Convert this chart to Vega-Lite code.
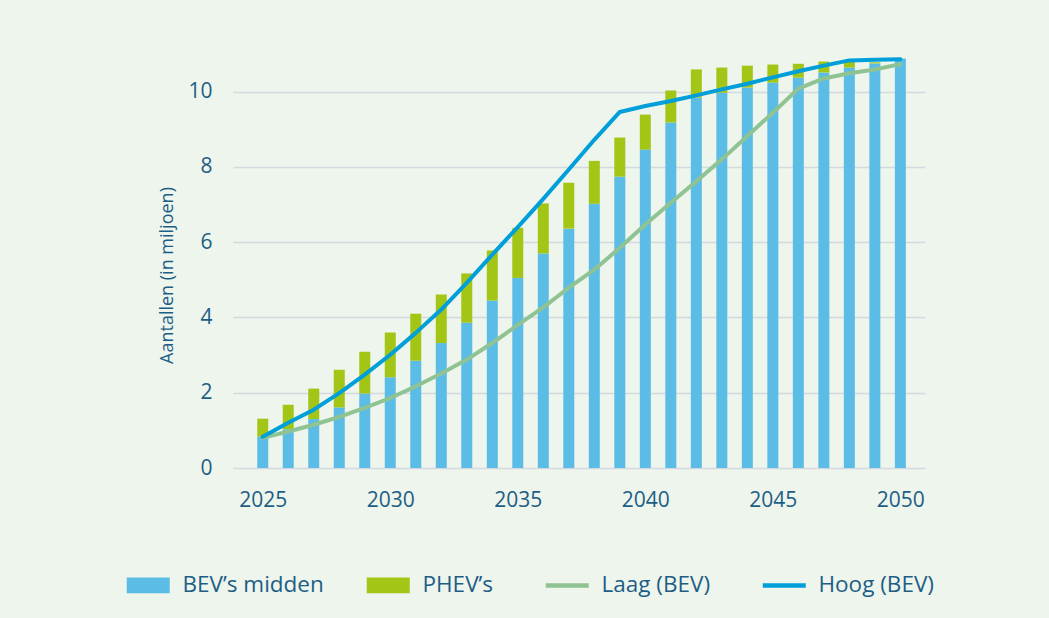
{
  "$schema": "https://vega.github.io/schema/vega-lite/v6.json",
  "width": 692,
  "height": 414,
  "autosize": {"type": "none"},
  "padding": {"left": 233, "top": 54, "right": 124, "bottom": 150},
  "background": "#eef5ec",
  "config": {
    "view": {"stroke": null},
    "font": "Open Sans",
    "axis": {"labelColor": "#1d5e86", "titleColor": "#1d5e86", "labelFont": "Open Sans", "titleFont": "Open Sans"},
    "legend": {"labelColor": "#1d5e86", "labelFont": "Open Sans"}
  },
  "data": {
    "values": [
      {"year": 2025, "bev": 0.83, "phev": 0.48, "laag": 0.80, "hoog": 0.83},
      {"year": 2026, "bev": 1.03, "phev": 0.65, "laag": 0.97, "hoog": 1.20},
      {"year": 2027, "bev": 1.30, "phev": 0.81, "laag": 1.15, "hoog": 1.55},
      {"year": 2028, "bev": 1.61, "phev": 1.00, "laag": 1.36, "hoog": 1.99},
      {"year": 2029, "bev": 1.98, "phev": 1.11, "laag": 1.60, "hoog": 2.48},
      {"year": 2030, "bev": 2.41, "phev": 1.19, "laag": 1.86, "hoog": 3.01},
      {"year": 2031, "bev": 2.85, "phev": 1.25, "laag": 2.17, "hoog": 3.59},
      {"year": 2032, "bev": 3.32, "phev": 1.29, "laag": 2.51, "hoog": 4.21},
      {"year": 2033, "bev": 3.86, "phev": 1.31, "laag": 2.88, "hoog": 4.92},
      {"year": 2034, "bev": 4.45, "phev": 1.33, "laag": 3.32, "hoog": 5.67},
      {"year": 2035, "bev": 5.05, "phev": 1.33, "laag": 3.80, "hoog": 6.40},
      {"year": 2036, "bev": 5.70, "phev": 1.33, "laag": 4.27, "hoog": 7.15},
      {"year": 2037, "bev": 6.36, "phev": 1.22, "laag": 4.79, "hoog": 7.93},
      {"year": 2038, "bev": 7.02, "phev": 1.14, "laag": 5.27, "hoog": 8.72},
      {"year": 2039, "bev": 7.74, "phev": 1.04, "laag": 5.85, "hoog": 9.46},
      {"year": 2040, "bev": 8.46, "phev": 0.93, "laag": 6.47, "hoog": 9.62},
      {"year": 2041, "bev": 9.18, "phev": 0.85, "laag": 7.05, "hoog": 9.75},
      {"year": 2042, "bev": 9.84, "phev": 0.75, "laag": 7.62, "hoog": 9.90},
      {"year": 2043, "bev": 9.97, "phev": 0.67, "laag": 8.20, "hoog": 10.06},
      {"year": 2044, "bev": 10.11, "phev": 0.58, "laag": 8.82, "hoog": 10.21},
      {"year": 2045, "bev": 10.24, "phev": 0.48, "laag": 9.44, "hoog": 10.38},
      {"year": 2046, "bev": 10.37, "phev": 0.37, "laag": 10.08, "hoog": 10.54},
      {"year": 2047, "bev": 10.51, "phev": 0.29, "laag": 10.35, "hoog": 10.69},
      {"year": 2048, "bev": 10.64, "phev": 0.15, "laag": 10.49, "hoog": 10.83},
      {"year": 2049, "bev": 10.75, "phev": 0.03, "laag": 10.59, "hoog": 10.85},
      {"year": 2050, "bev": 10.88, "phev": 0.0, "laag": 10.73, "hoog": 10.86}
    ]
  },
  "transform": [{"fold": ["bev", "phev", "laag", "hoog"], "as": ["series", "value"]}],
  "encoding": {
    "x": {
      "field": "year",
      "type": "quantitative",
      "scale": {"domain": [2024.03, 2050.77], "nice": false, "zero": false},
      "axis": {
        "values": [2025, 2030, 2035, 2040, 2045, 2050],
        "format": "d",
        "title": null,
        "grid": false,
        "domain": false,
        "ticks": false,
        "labelPadding": 21,
        "labelFontSize": 21,
        "labelFlush": false
      }
    },
    "color": {
      "field": "series",
      "type": "nominal",
      "scale": {
        "domain": ["bev", "phev", "laag", "hoog"],
        "range": ["#5bbde6", "#a3c516", "#8fc393", "#009fda"]
      },
      "legend": {
        "orient": "none",
        "legendX": -96,
        "legendY": 520,
        "direction": "horizontal",
        "title": null,
        "labelFontSize": 22.5,
        "labelOffset": 23,
        "columnPadding": 42,
        "symbolType": "M-1,-0.372H1V0.372H-1Z",
        "symbolSize": 1849,
        "labelExpr": "{'bev': 'BEV’s midden', 'phev': 'PHEV’s', 'laag': 'Laag (BEV)', 'hoog': 'Hoog (BEV)'}[datum.value]",
        "encode": {
          "symbols": {
            "update": {
              "shape": {"signal": "(datum.value === 'laag' || datum.value === 'hoog') ? 'stroke' : 'M-1,-0.372H1V0.372H-1Z'"},
              "fill": {"signal": "(datum.value === 'laag' || datum.value === 'hoog') ? 'transparent' : scale('color', datum.value)"},
              "stroke": {"signal": "scale('color', datum.value)"},
              "strokeWidth": {"signal": "(datum.value === 'laag' || datum.value === 'hoog') ? 4.5 : 0"},
              "opacity": {"value": 1}
            }
          }
        }
      }
    }
  },
  "layer": [
    {
      "transform": [{"filter": "datum.series === 'bev' || datum.series === 'phev'"}],
      "mark": {"type": "bar", "size": 11},
      "encoding": {
        "y": {
          "field": "value",
          "type": "quantitative",
          "stack": "zero",
          "scale": {"domain": [0, 11], "nice": false},
          "axis": {
            "values": [0, 2, 4, 6, 8, 10],
            "title": "Aantallen (in miljoen)",
            "titleFontSize": 18,
            "titleFontWeight": "normal",
            "titlePadding": 11,
            "titleY": 221,
            "grid": true,
            "gridColor": "#d3d9df",
            "gridWidth": 1.3,
            "domain": false,
            "ticks": false,
            "labelPadding": 21,
            "labelFontSize": 21
          }
        },
        "order": {"field": "series", "sort": "ascending"}
      }
    },
    {
      "transform": [{"filter": "datum.series === 'laag' || datum.series === 'hoog'"}],
      "mark": {"type": "line", "strokeWidth": 4, "interpolate": "linear", "strokeCap": "round", "strokeJoin": "round"},
      "encoding": {
        "y": {"field": "value", "type": "quantitative", "stack": null}
      }
    }
  ]
}
